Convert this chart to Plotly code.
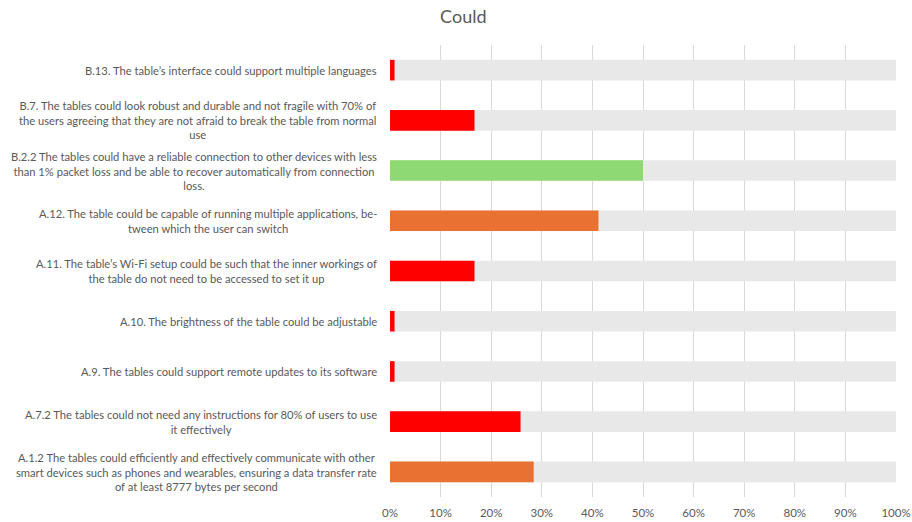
import plotly.graph_objects as go

# Requirement labels, top to bottom
labels = [
    "B.13. The table’s interface could support multiple languages",
    "B.7. The tables could look robust and durable and not fragile with 70% of<br>the users agreeing that they are not afraid to break the table from normal<br>use",
    "B.2.2 The tables could have a reliable connection to other devices with less<br>than 1% packet loss and be able to recover automatically from connection<br>loss.",
    "A.12. The table could be capable of running multiple applications, be-<br>tween which the user can switch",
    "A.11. The table’s Wi-Fi setup could be such that the inner workings of<br>the table do not need to be accessed to set it up",
    "A.10. The brightness of the table could be adjustable",
    "A.9. The tables could support remote updates to its software",
    "A.7.2 The tables could not need any instructions for 80% of users to use<br>it effectively",
    "A.1.2 The tables could efficiently and effectively communicate with other<br>smart devices such as phones and wearables, ensuring a data transfer rate<br>of at least 8777 bytes per second",
]

# Share achieved per requirement
achieved = [0.009, 0.167, 0.50, 0.412, 0.167, 0.009, 0.009, 0.258, 0.284]

# Full-scale reference (100%) drawn behind each bar
full_scale = [1.0] * len(labels)

# Status colour for each requirement
bar_colors = ["#FF0000", "#FF0000", "#8ED973", "#E97132", "#FF0000",
              "#FF0000", "#FF0000", "#FF0000", "#E97132"]

x_ticks = [i / 10 for i in range(11)]

TEXT = "#595959"
FONT = "Lato"

fig = go.Figure()
fig.add_trace(go.Bar(
    y=labels, x=full_scale, orientation="h",
    marker=dict(color="#E8E8E8", line=dict(width=0)),
    width=0.41, showlegend=False, hoverinfo="skip",
))
fig.add_trace(go.Bar(
    y=labels, x=achieved, orientation="h",
    marker=dict(color=bar_colors, line=dict(width=0)),
    width=0.41, showlegend=False,
))

# Centered, wrapped category labels right-aligned against the axis
for lab in labels:
    fig.add_annotation(
        x=0, xref="x", y=lab, yref="y",
        text=lab, showarrow=False,
        xanchor="right", yanchor="middle", align="center",
        xshift=-11,
        font=dict(family=FONT, size=11.2, color=TEXT),
    )

fig.update_layout(
    width=912, height=522,
    margin=dict(l=390, r=16, t=45, b=25, autoexpand=False),
    paper_bgcolor="white", plot_bgcolor="white",
    barmode="overlay",
    title=dict(text="Could", x=0.508, xanchor="center", y=0.968, yanchor="middle",
               font=dict(family=FONT, size=18, color=TEXT)),
    font=dict(family=FONT, size=12, color=TEXT),
)
fig.update_xaxes(
    range=[0, 1], tickvals=x_ticks, tickformat=".0%",
    showgrid=True, gridcolor="#D9D9D9", gridwidth=1,
    zeroline=False, showline=False, ticks="",
    ticklabelstandoff=7, automargin=False,
    tickfont=dict(family=FONT, size=11.5, color=TEXT),
)
fig.update_yaxes(
    categoryorder="array", categoryarray=labels, autorange="reversed",
    showticklabels=False, showgrid=False, zeroline=False, showline=False,
    automargin=False,
)

fig.write_html("out.html")
